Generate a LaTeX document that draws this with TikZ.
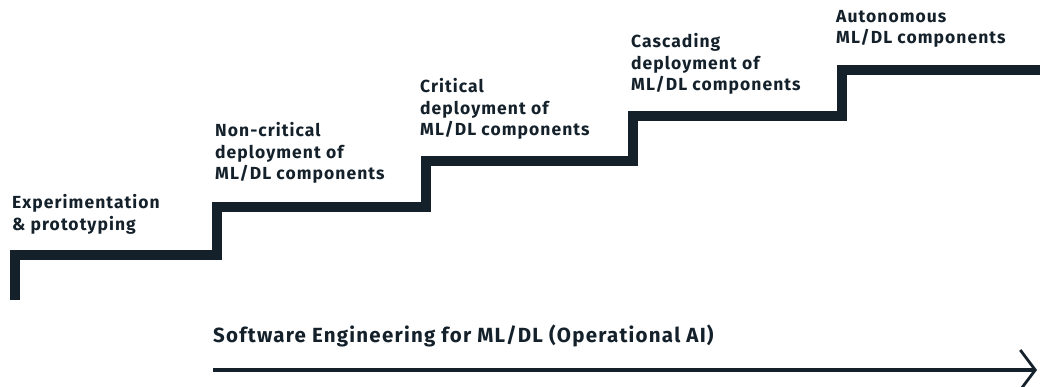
\documentclass[tikz,border=0pt]{standalone}
\usepackage{fontspec}
\setmainfont{Fira Sans}[LetterSpace=6]
\usetikzlibrary{arrows.meta}
\definecolor{ink}{HTML}{14212B}
\begin{document}
\begin{tikzpicture}[x=1pt,y=-1pt,
  lbl/.style={anchor=base west,align=left,inner sep=0pt,text=ink,
    font=\fontsize{17.5}{21.5}\selectfont\bfseries},
  stair/.style={draw=ink,line width=10pt,miter limit=10},
  axis/.style={draw=ink,line width=3.5pt,-{Straight Barb[length=15pt,width=40pt,line width=2.8pt]}}]
\useasboundingbox (0,0) rectangle (1040,387);
\coordinate (s0) at (15,300);
\coordinate (s1) at (15,255);
\coordinate (s2) at (217,255);
\coordinate (s3) at (217,207);
\coordinate (s4) at (426,207);
\coordinate (s5) at (426,161);
\coordinate (s6) at (633,161);
\coordinate (s7) at (633,116);
\coordinate (s8) at (842,116);
\coordinate (s9) at (842,70);
\coordinate (s10) at (1045,70);
\draw[stair] (s0) -- (s1) -- (s2) -- (s3) -- (s4) -- (s5) -- (s6) -- (s7) -- (s8) -- (s9) -- (s10);
\node[lbl] (t1) at (12,230) {Experimentation\\\& prototyping};
\node[lbl] (t2) at (215,180) {Non-critical\\deployment of\\ML/DL components};
\node[lbl] (t3) at (420,136) {Critical\\deployment of\\ML/DL components};
\node[lbl] (t4) at (631,91) {Cascading\\deployment of\\ML/DL components};
\node[lbl] (t5) at (836,44) {Autonomous\\ML/DL components};
\node[anchor=base west,inner sep=0pt,text=ink,font=\fontsize{20.5}{24}\selectfont\bfseries] (ax) at (213,342) {Software Engineering for ML/DL (Operational AI)};
\coordinate (a0) at (213,370);
\coordinate (a1) at (1037,370);
\draw[axis] (a0) -- (a1);
\end{tikzpicture}
\end{document}
